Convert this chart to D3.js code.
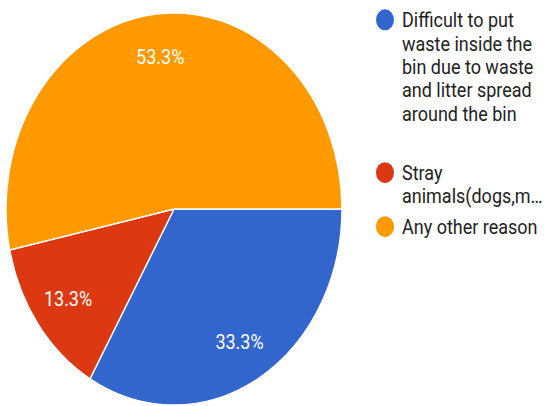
<!DOCTYPE html>
<html>
<head>
<meta charset="utf-8">
<script src="https://cdn.jsdelivr.net/npm/d3@7"></script>
<style>
  html, body { margin: 0; padding: 0; background: #fff; }
  svg { display: block; font-family: Roboto, "Noto Sans", sans-serif; }
</style>
</head>
<body>
<div id="chart"></div>
<script>
// slices, in drawing order (clockwise from 3 o'clock)
const categories = [
  "Difficult to put waste inside the bin due to waste and litter spread around the bin",
  "Stray animals(dogs,m\u2026",
  "Any other reason"
];
const values = [33.3, 13.3, 53.3];
const colors = ["#3366cc", "#dc3912", "#ff9900"];

// legend text as wrapped in the picture
const legendLines = [
  ["Difficult to put", "waste inside the", "bin due to waste", "and litter spread", "around the bin"],
  ["Stray", "animals(dogs,m\u2026"],
  ["Any other reason"]
];
const legendTop = [17, 148, 194.3];

const width = 551, height = 406;
// the picture is stretched vertically
const sy = 406 / 348;

const svg = d3.select("#chart")
  .append("svg")
  .attr("width", width)
  .attr("height", height);

const g = svg.append("g")
  .attr("transform", "scale(1," + sy + ")");

const radius = 168;
const pie = d3.pie()
  .sort(null)
  .value(d => d)
  .startAngle(Math.PI / 2)
  .endAngle(Math.PI / 2 + 2 * Math.PI);

const arc = d3.arc().innerRadius(0).outerRadius(radius);
const labelArc = d3.arc().innerRadius(radius * 0.78).outerRadius(radius * 0.78);

const pieG = g.append("g")
  .attr("transform", "translate(174," + (209 / sy) + ")");

const arcs = pie(values);

pieG.selectAll("path")
  .data(arcs)
  .enter()
  .append("path")
  .attr("d", arc)
  .attr("fill", (d, i) => colors[i])
  .attr("stroke", "#fff")
  .attr("stroke-width", 1.4)
  .attr("vector-effect", "non-scaling-stroke");

pieG.selectAll("text")
  .data(arcs)
  .enter()
  .append("text")
  .attr("transform", d => "translate(" + labelArc.centroid(d) + ")")
  .attr("text-anchor", "middle")
  .attr("dy", "0.35em")
  .attr("fill", "#fff")
  .style("font-size", "18px")
  .text(d => d3.format(".1f")(d.value) + "%");

// legend
const legend = g.append("g");
const item = legend.selectAll("g")
  .data(categories)
  .enter()
  .append("g")
  .attr("transform", (d, i) => "translate(0," + legendTop[i] + ")");

item.append("circle")
  .attr("cx", 385)
  .attr("cy", 0)
  .attr("r", 9)
  .attr("fill", (d, i) => colors[i]);

item.append("text")
  .attr("x", 402)
  .attr("fill", "#222")
  .style("font-size", "18px")
  .selectAll("tspan")
  .data((d, i) => legendLines[i])
  .enter()
  .append("tspan")
  .attr("x", 402)
  .attr("y", (d, j) => j * 20)
  .attr("dy", "0.35em")
  .text(d => d);
</script>
</body>
</html>
